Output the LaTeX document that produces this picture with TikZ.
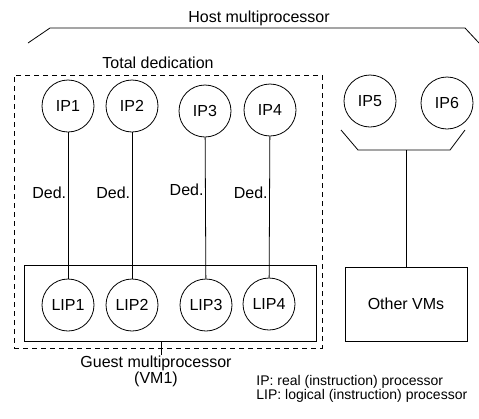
\documentclass[tikz,border=0pt]{standalone}
\usepackage{fontspec}
\setmainfont{Liberation Sans}
\begin{document}
\begin{tikzpicture}[x=1pt,y=-1pt,
  line width=0.8pt,
  every node/.style={font=\fontsize{16}{16}\selectfont},
  proc/.style={circle, draw, minimum size=52pt, inner sep=0pt},
  ded/.style={left, inner sep=1.5pt},
  region/.style={draw, dash pattern=on 5pt off 4pt},
  plainbox/.style={draw, inner sep=0pt}]
\useasboundingbox (0,0) rectangle (479,418);

% host multiprocessor and its brace
\node[anchor=base] (host) at (259,22) {Host multiprocessor};
\draw (28,43) -- (50,28) -- (465,28) -- (479,43);

% dedicated partition
\node[anchor=base] (total) at (158,68) {Total dedication};
\node[region, minimum width=308pt, minimum height=273pt] (dedi) at (168,211.5) {};
\node[plainbox, minimum width=292pt, minimum height=76pt] (vm1) at (170,303) {};

% real processors
\node[proc] (IP1) at (68,106) {IP1};
\node[proc] (IP2) at (132,106) {IP2};
\node[proc] (IP3) at (205,111) {IP3};
\node[proc] (IP4) at (270,110) {IP4};
\node[proc] (IP5) at (370,101) {IP5};
\node[proc] (IP6) at (447,103) {IP6};

% logical processors of the guest
\node[proc] (LIP1) at (68,305) {LIP1};
\node[proc] (LIP2) at (132,305) {LIP2};
\node[proc] (LIP3) at (206,305) {LIP3};
\node[proc] (LIP4) at (269,304) {LIP4};

% dedication links
\draw (IP1) -- node[ded, pos=0.41] {Ded.} (LIP1);
\draw (IP2) -- node[ded, pos=0.41] {Ded.} (LIP2);
\draw (IP3) -- node[ded, pos=0.37] {Ded.} (LIP3);
\draw (IP4) -- node[ded, pos=0.40] {Ded.} (LIP4);

% shared processors serving the other VMs
\node[plainbox, minimum width=122pt, minimum height=74pt] (others) at (406,304) {Other VMs};
\coordinate (hubL) at (358,150);
\coordinate (hubR) at (450,150);
\coordinate (hub) at (406,150);
\draw (341,130) -- (hubL) -- (hubR) -- (465,130);
\draw (hub) -- (hub |- others.north);

% guest label
\node[anchor=north, align=center, inner sep=0pt] (guest) at (156,355) {Guest multiprocessor\\(VM1)};
\coordinate (tick) at (161,341);
\draw (tick) -- (tick |- guest.north);

% legend
\node[anchor=north west, align=left, inner sep=0pt,
      font=\fontsize{14}{12.5}\selectfont] (legend) at (256,375)
  {IP: real (instruction) processor\\LIP: logical (instruction) processor};
\end{tikzpicture}
\end{document}
